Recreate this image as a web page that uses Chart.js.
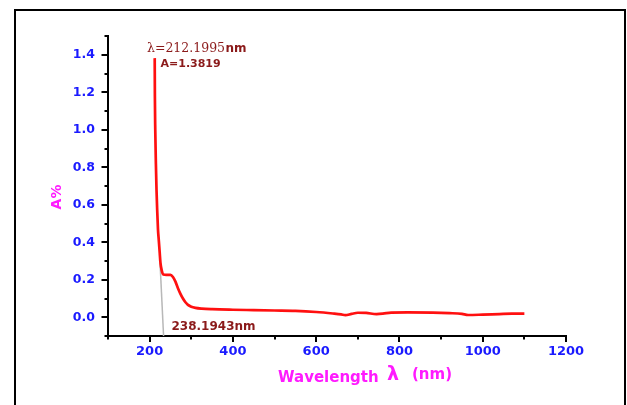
<!DOCTYPE html>
<html>
<head>
<meta charset="utf-8">
<script src="https://cdn.jsdelivr.net/npm/chart.js@4.4.1/dist/chart.umd.min.js"></script>
<style>
  html, body { margin: 0; padding: 0; background: #fff; }
  #wrap { position: relative; width: 627px; height: 405px; }
</style>
</head>
<body>
<div id="wrap"><canvas id="specChart" width="627" height="405"></canvas></div>
<script>
// absorption spectrum
const wavelength = [212.2, 212.6, 213.5, 215, 216.5, 218, 220, 222, 224, 226, 229, 233, 240, 250, 256, 262, 268, 274, 280, 286, 292, 300, 310, 325, 350, 400, 450, 500, 550, 600, 640, 660, 670, 685, 700, 720, 745, 760, 780, 820, 880, 920, 950, 965, 1000, 1040, 1070, 1100];
const absorbance = [1.382, 1.18, 1.0, 0.82, 0.68, 0.58, 0.47, 0.41, 0.35, 0.29, 0.25, 0.228, 0.226, 0.226, 0.215, 0.19, 0.155, 0.125, 0.1, 0.08, 0.066, 0.056, 0.05, 0.046, 0.043, 0.04, 0.038, 0.036, 0.034, 0.028, 0.02, 0.015, 0.011, 0.018, 0.024, 0.023, 0.017, 0.019, 0.025, 0.026, 0.025, 0.022, 0.018, 0.012, 0.014, 0.017, 0.019, 0.019];

// tangent used for the band edge
const tangentX = [225, 233.5];
const tangentY = [0.29, -0.1];

const xMin = 100, xMax = 1200, xStep = 100;
const yMin = -0.1, yMax = 1.5, yStep = 0.1;

const blue = "#1a1aff";
const magenta = "#ff1aff";
const maroon = "#8b1a1a";

// frame, tick marks, titles and notes
const decor = {
  id: "decor",
  beforeDraw(chart) {
    const ctx = chart.ctx;
    ctx.save();
    ctx.strokeStyle = "#000";
    ctx.lineWidth = 2;
    ctx.strokeRect(15, 10, 610, 420);
    ctx.restore();
  },
  afterDraw(chart) {
    const ctx = chart.ctx;
    const { x, y } = chart.scales;
    ctx.save();
    ctx.strokeStyle = "#000";
    ctx.lineWidth = 2;
    ctx.beginPath();
    x.ticks.forEach(t => {
      const px = Math.round(x.getPixelForValue(t.value));
      const len = t.label ? 6 : 3.5;
      ctx.moveTo(px, x.top);
      ctx.lineTo(px, x.top + len);
    });
    y.ticks.forEach(t => {
      const py = Math.round(y.getPixelForValue(t.value));
      const len = t.label ? 6.5 : 3.5;
      ctx.moveTo(y.right, py);
      ctx.lineTo(y.right - len, py);
    });
    ctx.stroke();

    // y title
    ctx.fillStyle = magenta;
    ctx.save();
    ctx.translate(57, 197);
    ctx.rotate(-Math.PI / 2);
    ctx.font = "bold 14px 'DejaVu Sans'";
    ctx.textAlign = "center";
    ctx.textBaseline = "middle";
    ctx.fillText("A%", 0, 0);
    ctx.restore();

    // x title
    ctx.textAlign = "left";
    ctx.textBaseline = "alphabetic";
    ctx.font = "bold 15px 'DejaVu Sans'";
    ctx.fillText("Wavelength", 278, 381.5);
    ctx.font = "bold 19px 'DejaVu Sans'";
    ctx.fillText("λ", 387, 380);
    ctx.font = "bold 15px 'DejaVu Sans'";
    ctx.fillText("(nm)", 412, 379);

    // notes
    ctx.fillStyle = maroon;
    ctx.font = "12.5px 'DejaVu Serif'";
    const s1 = "λ=212.1995";
    ctx.fillText(s1, 147, 52);
    const w1 = ctx.measureText(s1).width;
    ctx.font = "bold 12px 'DejaVu Sans'";
    ctx.fillText("nm", 147 + w1 + 0.5, 52);
    ctx.font = "bold 11px 'DejaVu Sans'";
    ctx.fillText("A=1.3819", 160.5, 66.5);
    ctx.font = "bold 12px 'DejaVu Sans'";
    ctx.fillText("238.1943nm", 171.5, 330);
    ctx.restore();
  }
};

new Chart(document.getElementById("specChart"), {
  type: "scatter",
  data: {
    datasets: [
      {
        label: "Absorbance",
        data: wavelength.map((w, i) => ({ x: w, y: absorbance[i] })),
        showLine: true,
        borderColor: "#ff1010",
        borderWidth: 2.7,
        pointRadius: 0,
        cubicInterpolationMode: "monotone",
      },
      {
        label: "Tangent",
        data: tangentX.map((w, i) => ({ x: w, y: tangentY[i] })),
        showLine: true,
        borderColor: "#b8b8b8",
        borderWidth: 1.5,
        pointRadius: 0,
      },
    ],
  },
  options: {
    responsive: false,
    animation: false,
    layout: { padding: { left: 0, top: 36, right: 61, bottom: 0 } },
    plugins: { legend: { display: false }, tooltip: { enabled: false } },
    scales: {
      x: {
        type: "linear",
        min: xMin,
        max: xMax,
        afterFit: s => { s.height = 69; },
        grid: { display: false, drawTicks: false },
        border: { display: true, color: "#000", width: 2 },
        ticks: {
          stepSize: xStep,
          maxTicksLimit: 100,
          autoSkip: false,
          maxRotation: 0,
          padding: 8,
          color: blue,
          font: { family: "'DejaVu Sans'", size: 13, weight: "bold" },
          callback: v => (Math.round(v) % 200 === 0 && v >= 200) ? String(v) : "",
        },
      },
      y: {
        min: yMin,
        max: yMax,
        afterFit: s => { s.width = 108; },
        grid: { display: false, drawTicks: false },
        border: { display: true, color: "#000", width: 2 },
        ticks: {
          stepSize: yStep,
          maxTicksLimit: 100,
          autoSkip: false,
          padding: 13,
          color: blue,
          font: { family: "'DejaVu Sans'", size: 12.5, weight: "bold" },
          callback: v => {
            const k = Math.round(v * 10);
            return (k % 2 === 0 && k >= 0 && k <= 14) ? (k / 10).toFixed(1) : "";
          },
        },
      },
    },
  },
  plugins: [decor],
});
</script>
</body>
</html>
